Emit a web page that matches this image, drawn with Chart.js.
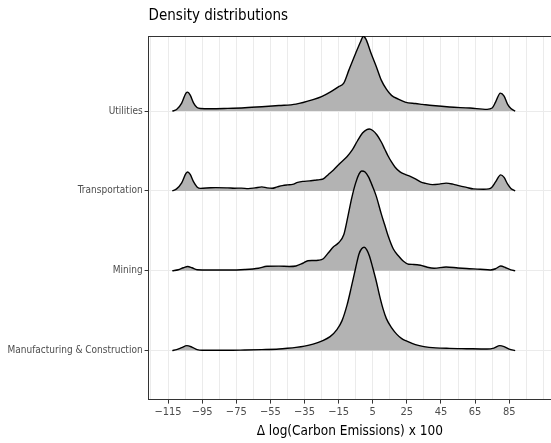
<!DOCTYPE html>
<html>
<head>
<meta charset="utf-8">
<script src="https://cdn.jsdelivr.net/npm/chart.js@4.4.1/dist/chart.umd.min.js"></script>
<style>
  html, body { margin: 0; padding: 0; background: #fff; overflow: hidden; }
  #wrap { width: 551px; height: 443px; }
</style>
</head>
<body>
<div id="wrap"><canvas id="ridgeChart"></canvas></div>
<script>
// rows, bottom to top
const categories = ['Manufacturing & Construction', 'Mining', 'Transportation', 'Utilities'];

// x axis: labelled breaks and the lighter grid every 10
const xTickLabels = [-115, -95, -75, -55, -35, -15, 5, 25, 45, 65, 85];
const xGridBreaks = [-125, -115, -105, -95, -85, -75, -65, -55, -45, -35, -25, -15, -5, 5, 15, 25, 35, 45, 55, 65, 75, 85, 95, 105];

// density curves (x, relative height)
const utilitiesX = [-112.5, -110, -107, -104.5, -103.5, -102, -100, -98, -96, -90, -80, -70, -60, -50, -40, -30, -25, -20, -15, -12, -9, -5, -2, -0.5, 1, 4, 7, 10, 13, 16, 20, 24, 30, 34, 40, 50, 62, 72, 75, 77, 79.8, 82, 84, 86, 88.5];
const utilitiesH = [0, 1.5, 8, 18, 19, 16, 8, 3.5, 2.5, 2.3, 2.7, 3.3, 4.3, 5.5, 7, 11.5, 14.5, 19, 24.5, 28, 41, 58, 70, 75, 72, 58, 45, 31, 22, 15.7, 12, 9, 7.5, 6.7, 5.5, 4, 3, 1.7, 3, 9, 18, 15, 7, 2.5, 0];

const transportX = [-112.5, -110, -107, -104.5, -103.5, -102, -100, -98, -96, -90, -87, -80, -76, -72, -68, -64, -60, -57, -54, -51, -48, -45, -42, -39, -36, -32, -29, -26, -24, -21, -18, -14, -10, -7, -4, -1, 1.5, 3, 5, 7.5, 10, 12, 14, 16, 18, 21, 24, 27, 30, 33, 36, 40, 44, 48, 52, 56, 60, 64, 70, 73, 75, 77, 80, 82, 84, 86, 88.5];
const transportH = [0, 2, 8, 17.5, 19, 16.5, 9, 4, 2.5, 3.2, 3.3, 3, 2.7, 2.8, 2.3, 3, 4, 3, 2.6, 4, 5.3, 6, 6.5, 8.5, 9.5, 10, 10.7, 11.3, 12, 16.5, 21, 28, 34.5, 41, 50, 58, 61.5, 62, 60.5, 56, 49, 42, 35, 29, 24, 19, 16.5, 14.5, 12, 9, 7.5, 6.3, 6.8, 7.8, 6.8, 5, 3.5, 2, 1.7, 2, 4, 9, 16, 13.5, 7, 2.5, 0];

const miningX = [-112.5, -109, -106, -103.5, -101, -98, -90, -80, -70, -62, -57, -50, -44, -40, -36, -33, -30, -27, -24, -21, -18, -15, -12, -9.5, -7.3, -5, -3, -1.5, 0.5, 2.5, 5, 7, 10, 12, 14, 17, 20, 23, 26, 29, 33, 37, 41, 48, 55, 60, 68, 74, 77, 80, 83, 86, 88.5];
const miningH = [0, 1, 3, 4.2, 3, 1, 0.8, 0.7, 1.2, 2.5, 4.5, 4.6, 4.3, 4.8, 7.5, 10, 10.2, 10.5, 12, 18, 24, 28, 36, 55, 73, 88, 97, 100, 99, 94, 84, 75, 57, 46, 35, 22, 15, 9.5, 6.5, 6.3, 5.5, 3.5, 2.5, 3.8, 2.8, 2.2, 1.5, 0.8, 2, 4.7, 3, 0.8, 0];

const manufX = [-112.5, -110, -107, -104, -101, -98, -95, -80, -70, -60, -50, -45, -40, -35, -30, -25, -20, -16, -13, -10, -7.5, -5, -3, -1.5, 0, 1.5, 3, 5, 7, 9, 11, 13, 16, 19, 22, 25, 30, 35, 42, 50, 60, 72, 76, 79.5, 82, 85, 88.5];
const manufH = [0, 1, 3, 5, 3.5, 1, 0.3, 0.3, 0.6, 1, 1.6, 2.3, 3.2, 4.5, 6.5, 9.5, 14, 21, 30, 46, 64, 83, 97, 102, 103.5, 101, 95, 83, 70, 55, 42, 32, 23, 16.5, 12, 9.5, 6, 4, 2.7, 2.2, 1.9, 1.6, 2.5, 5, 4, 1.5, 0];

// relative height -> rows (like ggridges' scale)
const ridgeScale = 1 / 80;

const FONT = "'Liberation Sans Narrow', 'Arial Narrow', 'DejaVu Sans Condensed', sans-serif";
Chart.defaults.font.family = FONT;

function ridge(label, xs, hs) {
    const row = categories.indexOf(label) + 1;
    return {
        label: label,
        data: xs.map((x, i) => ({ x: x, y: row + hs[i] * ridgeScale })),
        fill: { value: row },
        backgroundColor: '#b3b3b3',
        borderColor: '#000000',
        borderWidth: 1.4,
        pointRadius: 0,
        cubicInterpolationMode: 'monotone',
        order: row   // upper rows drawn first, lower ones overlap them
    };
}

function fmtTick(v) {
    return v < 0 ? '\u2212' + Math.abs(v) : String(v);
}

const xMin = -126.4;
const xMax = 109.5;

new Chart(document.getElementById('ridgeChart'), {
    type: 'line',
    data: {
        datasets: [
            ridge('Utilities', utilitiesX, utilitiesH),
            ridge('Transportation', transportX, transportH),
            ridge('Mining', miningX, miningH),
            ridge('Manufacturing & Construction', manufX, manufH)
        ]
    },
    options: {
        responsive: true,
        maintainAspectRatio: false,
        animation: false,
        layout: { padding: { left: 0, right: 0, top: 0, bottom: 3 } },
        plugins: {
            legend: { display: false },
            tooltip: { enabled: false }
        },
        scales: {
            x: {
                type: 'linear',
                min: xMin,
                max: xMax,
                afterBuildTicks: (axis) => {
                    axis.ticks = xGridBreaks.map(v => ({ value: v }));
                },
                grid: {
                    color: '#ebebeb',
                    lineWidth: 1,
                    tickLength: 4,
                    tickColor: (ctx) => (ctx.tick && xTickLabels.includes(ctx.tick.value)) ? '#333333' : 'rgba(0,0,0,0)'
                },
                border: { display: true, color: '#333333', width: 1 },
                ticks: {
                    autoSkip: false,
                    maxRotation: 0,
                    padding: 2,
                    color: '#4d4d4d',
                    font: { size: 11 },
                    callback: (v) => xTickLabels.includes(v) ? fmtTick(v) : ''
                },
                title: {
                    display: true,
                    text: '\u0394 log(Carbon Emissions) x 100',
                    color: '#000000',
                    font: { size: 13.5 },
                    padding: { top: 3, bottom: 0 }
                }
            },
            x2: {
                type: 'linear',
                position: 'top',
                min: xMin,
                max: xMax,
                grid: { display: false },
                border: { display: true, color: '#333333', width: 1 },
                ticks: { display: false },
                title: {
                    display: true,
                    text: 'Density distributions',
                    align: 'start',
                    color: '#000000',
                    font: { size: 15 },
                    padding: { top: 7, bottom: 3 }
                }
            },
            y: {
                type: 'linear',
                min: 0.386,
                max: 4.94,
                afterBuildTicks: (axis) => {
                    axis.ticks = categories.map((c, i) => ({ value: i + 1 }));
                },
                afterFit: (axis) => {
                    axis.width = 148.6;
                },
                grid: {
                    color: '#ebebeb',
                    lineWidth: 1,
                    tickLength: 4,
                    tickColor: '#333333'
                },
                border: { display: true, color: '#333333', width: 1 },
                ticks: {
                    padding: 2,
                    color: '#4d4d4d',
                    font: { size: 10 },
                    callback: (v) => categories[v - 1] || ''
                }
            }
        }
    }
});
</script>
</body>
</html>
